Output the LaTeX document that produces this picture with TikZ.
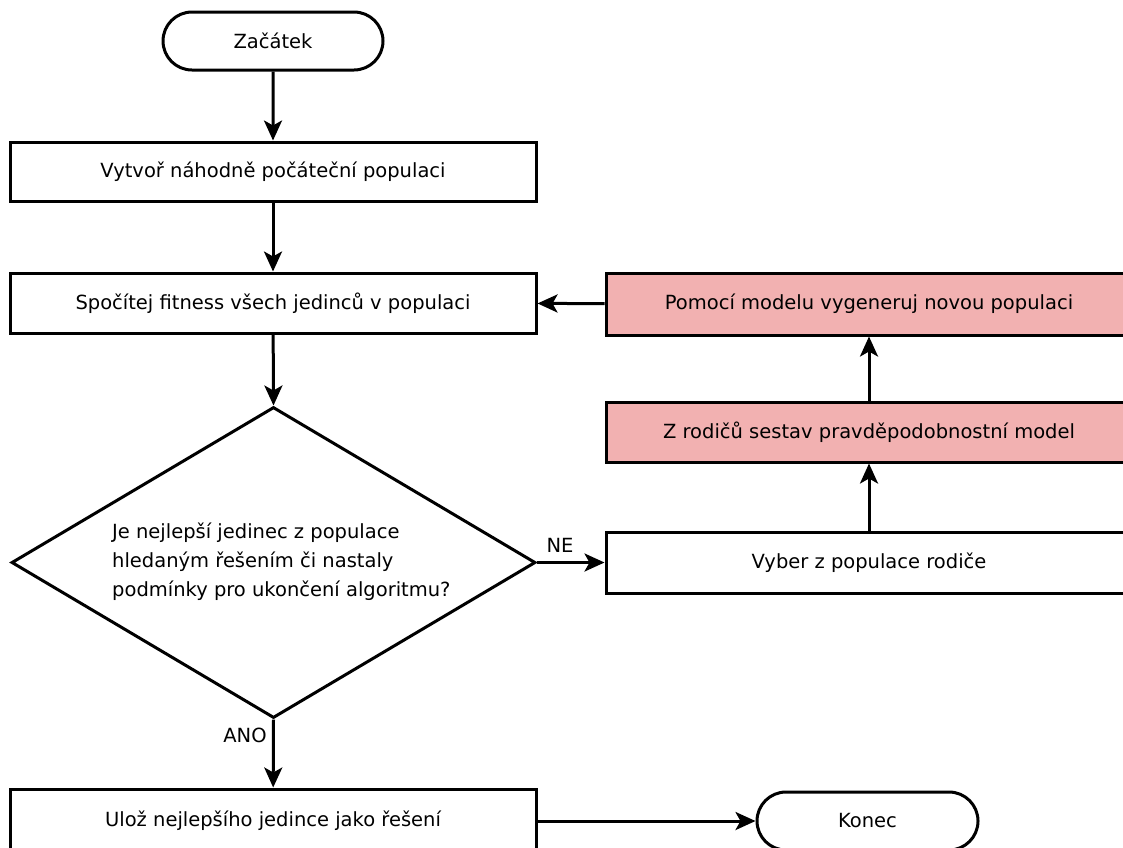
\documentclass[tikz,border=0pt]{standalone}
\usepackage{fontspec}
\setmainfont{DejaVu Sans}
\usetikzlibrary{arrows.meta,shapes.geometric,shapes.misc}
\definecolor{rosefill}{RGB}{242,177,177}
\tikzset{
  every node/.style={font=\fontsize{19.5}{29}\selectfont, text=black},
  procbox/.style={draw, line width=3pt, rectangle, minimum width=526pt, inner sep=0pt, fill=white},
  redbox/.style={procbox, fill=rosefill},
  termbox/.style={draw, line width=3pt, rounded rectangle, minimum width=220pt, minimum height=58pt, inner sep=0pt, fill=white},
  decbox/.style={draw, line width=3pt, diamond, minimum width=524pt, minimum height=311pt, inner sep=0pt, aspect=1.69},
  flow/.style={line width=3pt, -{Stealth[length=20pt, width=18pt, inset=5pt]}},
  lbl/.style={inner sep=0pt}
}
\begin{document}
\begin{tikzpicture}[x=1pt, y=-1pt]
\useasboundingbox (0,0) rectangle (1123,847);
\fill[white] (0,0) rectangle (1123,847);

\node[termbox] (start) at (273,41) {Začátek};
\node[procbox, minimum height=59pt] (init) at (273,171.5) {Vytvoř náhodně počáteční populaci};
\node[procbox, minimum height=60pt] (fit) at (273,303) {Spočítej fitness všech jedinců v populaci};
\node[decbox] (dec) at (273.5,562.5) {};
\node[align=left, inner sep=0pt, anchor=west] (dectext) at (112,562) {Je nejlepší jedinec z populace\\hledaným řešením či nastaly\\podmínky pro ukončení algoritmu?};
\node[redbox, minimum height=62pt] (gen) at (869,304) {Pomocí modelu vygeneruj novou populaci};
\node[redbox, minimum height=60pt] (model) at (869,432) {Z rodičů sestav pravděpodobnostní model};
\node[procbox, minimum height=61pt] (sel) at (869,562.5) {Vyber z populace rodiče};
\node[procbox, minimum height=64pt] (save) at (273,821) {Ulož nejlepšího jedince jako řešení};
\node[termbox, minimum width=221pt] (stop) at (867.5,821) {Konec};

\draw[flow] (start) -- (init);
\draw[flow] (init) -- (fit);
\draw[flow] (fit) -- (dec.north);
\draw[flow] (dec.east) -- (sel.west);
\draw[flow] (sel) -- (model);
\draw[flow] (model) -- (gen);
\draw[flow] (gen) -- (fit);
\draw[flow] (dec.south) -- (save);
\draw[flow] (save) -- (stop);

\node[lbl] (ne) at (560,545) {NE};
\node[lbl] (ano) at (245,735) {ANO};
\end{tikzpicture}
\end{document}
